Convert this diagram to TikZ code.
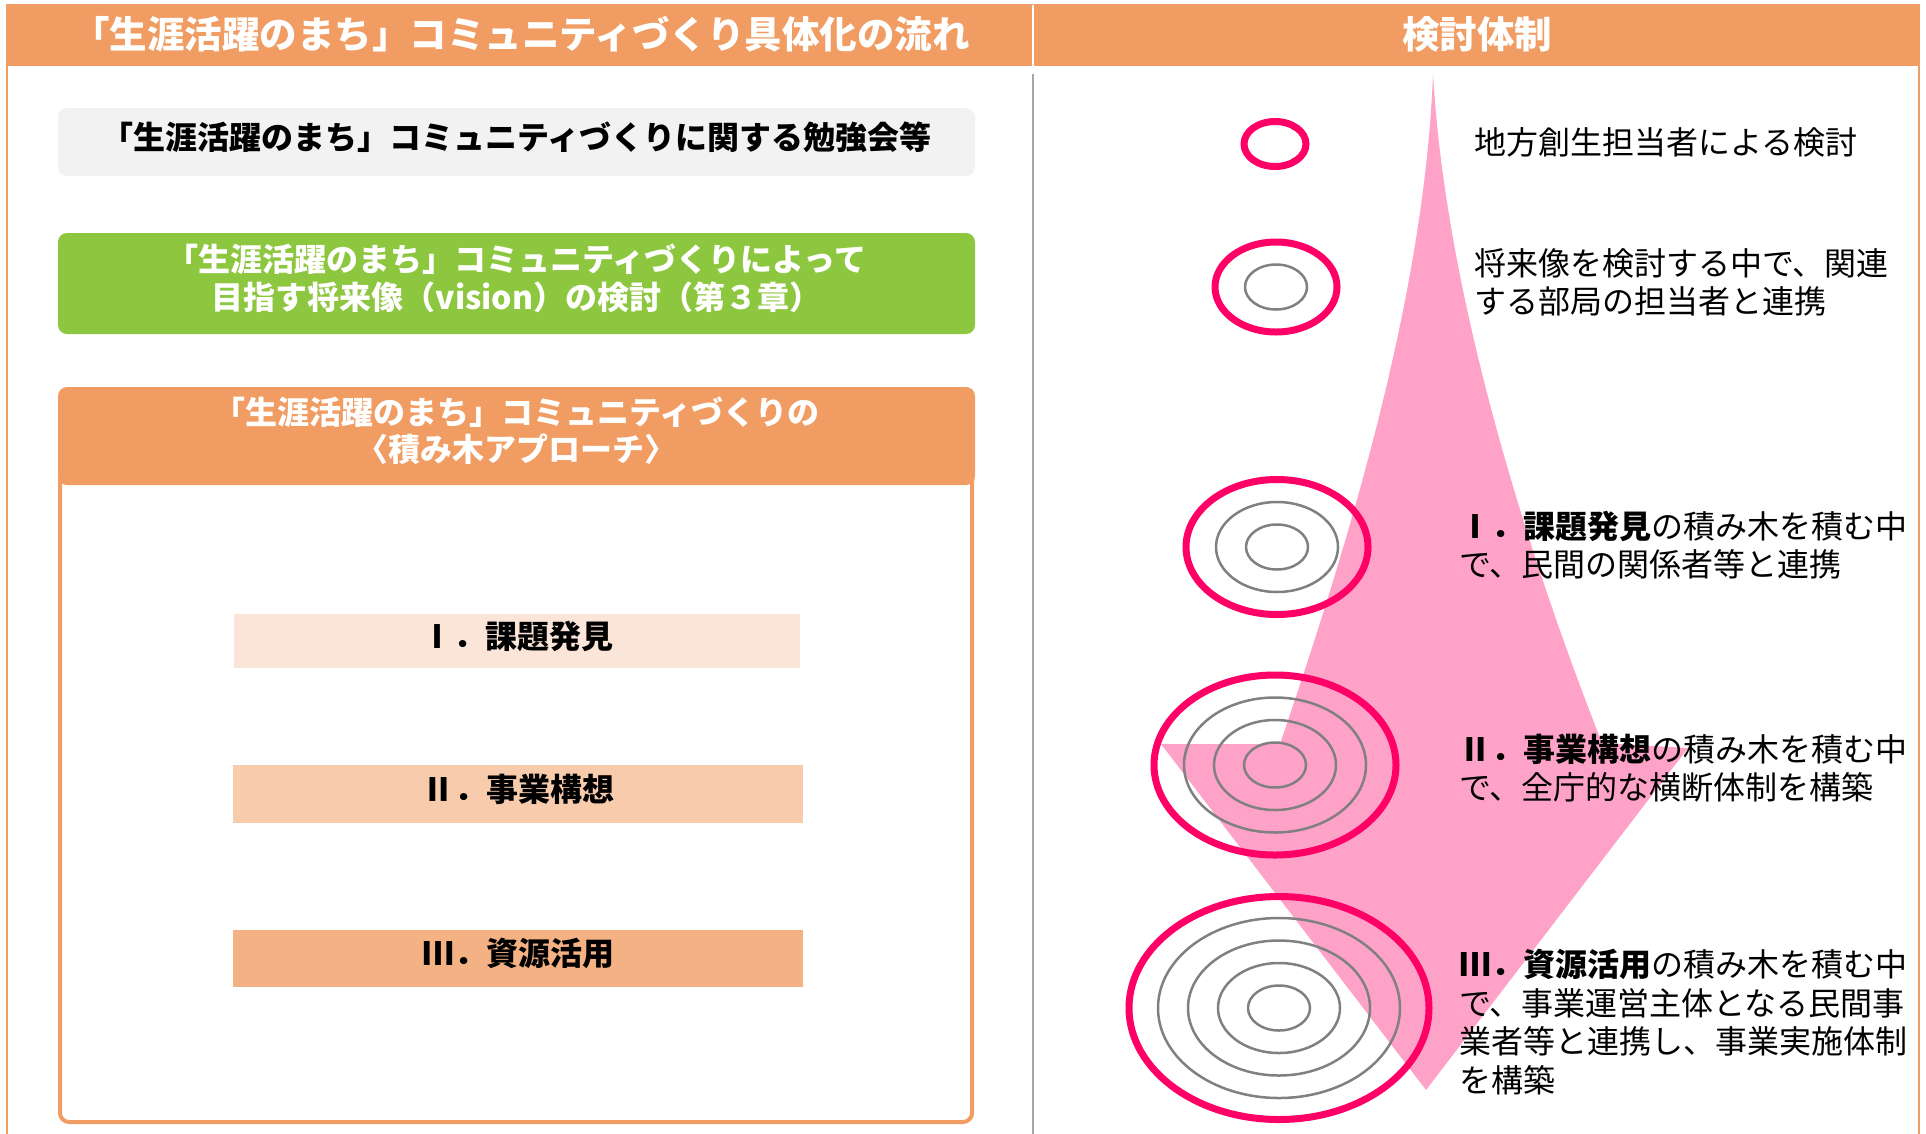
\documentclass[tikz,border=0pt]{standalone}
\usepackage{fontspec}
\setmainfont{Noto Sans CJK JP}
\definecolor{hdr}{HTML}{F19C62}
\definecolor{frameorange}{HTML}{F19C62}
\definecolor{boxgray}{HTML}{F2F2F2}
\definecolor{boxgreen}{HTML}{8DC73F}
\definecolor{stepone}{HTML}{FBE5D9}
\definecolor{steptwo}{HTML}{F8CBAD}
\definecolor{stepthree}{HTML}{F4B183}
\definecolor{arrowpink}{HTML}{FFA2C8}
\definecolor{ringpink}{HTML}{FF0066}
\definecolor{ringgray}{HTML}{808080}
\definecolor{divgray}{HTML}{A6A6A6}
\begin{document}
\begin{tikzpicture}[x=1pt,y=-1pt,
  hdrtext/.style={text=white,font=\fontsize{37.5}{40}\selectfont\bfseries,inner sep=0pt},
  lbox/.style={rounded corners=9pt,inner sep=0pt,minimum width=917pt},
  boxtext/.style={inner sep=0pt,align=center,font=\fontsize{32}{37.5}\selectfont\bfseries},
  stepbox/.style={inner sep=0pt},
  side/.style={font=\fontsize{32}{38.5}\selectfont,align=left,anchor=west,inner sep=0pt},
  pinkring/.style={draw=ringpink,line width=7pt},
  grayring/.style={draw=ringgray,line width=2.5pt}]
\useasboundingbox (0,0) rectangle (1926,1133);
\clip (0,0) rectangle (1926,1133);
% outer frame and header
\draw[frameorange,line width=2pt] (7,5) rectangle (1919,1160);
\fill[hdr] (6,5) rectangle (1920,66);
\draw[white,line width=2pt] (1033,5) -- (1033,66);
\draw[divgray,line width=2.5pt] (1033,74) -- (1033,1140);
\node[hdrtext] (lhdr) at (521,34) {「生涯活躍のまち」コミュニティづくり具体化の流れ};
\node[hdrtext] (rhdr) at (1477,34) {検討体制};
% left column
\node[lbox,fill=boxgray,minimum height=68pt] (study) at (516.5,142) {};
\node[boxtext] (studytext) at ([yshift=5pt]study.center)
  {「生涯活躍のまち」コミュニティづくりに関する勉強会等};
\node[lbox,fill=boxgreen,minimum height=101pt] (vision) at (516.5,283.5) {};
\node[boxtext,text=white] (visiontext) at ([yshift=5pt]vision.center)
  {「生涯活躍のまち」コミュニティづくりによって\\目指す将来像（vision）の検討（第３章）};
\node[draw=frameorange,line width=4pt,rounded corners=9pt,minimum width=912pt,
  minimum height=652pt,inner sep=0pt] (approachframe) at (516,796) {};
\node[lbox,fill=hdr,minimum height=98pt] (approach) at (516.5,436) {};
\node[boxtext,text=white] (approachtext) at ([yshift=5pt]approach.center)
  {「生涯活躍のまち」コミュニティづくりの\\〈積み木アプローチ〉};
\node[stepbox,fill=stepone,minimum width=566pt,minimum height=54pt] (s1) at (517,641) {};
\node[boxtext] (s1text) at ([yshift=5pt]s1.center) {Ⅰ．課題発見};
\node[stepbox,fill=steptwo,minimum width=570pt,minimum height=58pt] (s2) at (518,794) {};
\node[boxtext] (s2text) at ([yshift=5pt]s2.center) {Ⅱ．事業構想};
\node[stepbox,fill=stepthree,minimum width=570pt,minimum height=57pt] (s3) at (518,958) {};
\node[boxtext] (s3text) at ([yshift=5pt]s3.center) {Ⅲ．資源活用};
% right column: arrow
\fill[arrowpink] (1433,74) .. controls (1446,300) and (1530,560) .. (1602,743)
  -- (1688,748) -- (1426,1090) -- (1161,744) -- (1280,744)
  .. controls (1360,510) and (1425,280) .. (1433,74) -- cycle;
% rings
\draw[pinkring] (1275,144) ellipse [x radius=31pt,y radius=22.5pt];
\draw[grayring] (1276,287) ellipse [x radius=31pt,y radius=22.5pt];
\draw[pinkring] (1276,287) ellipse [x radius=61pt,y radius=45pt];
\draw[grayring] (1277,547) ellipse [x radius=31pt,y radius=22.5pt];
\draw[grayring] (1277,547) ellipse [x radius=61pt,y radius=45pt];
\draw[pinkring] (1277,547) ellipse [x radius=91pt,y radius=67.5pt];
\foreach \r/\s in {31/22.5,61/45,91/67.5}
  \draw[grayring] (1275,765) ellipse [x radius=\r pt,y radius=\s pt];
\draw[pinkring] (1275,765) ellipse [x radius=121pt,y radius=90pt];
\foreach \r/\s in {31/22.5,61/45,91/67.5,121/90}
  \draw[grayring] (1279,1008) ellipse [x radius=\r pt,y radius=\s pt];
\draw[pinkring] (1279,1008) ellipse [x radius=150pt,y radius=111.5pt];
% right texts
\node[side] (t1) at (1474,142) {地方創生担当者による検討};
\node[side] (t2) at (1474,282.5) {将来像を検討する中で、関連\\する部局の担当者と連携};
\node[side] (t3) at (1459,545) {{\bfseries Ⅰ．課題発見}の積み木を積む中\\で、民間の関係者等と連携};
\node[side] (t4) at (1459,768) {{\bfseries Ⅱ．事業構想}の積み木を積む中\\で、全庁的な横断体制を構築};
\node[side] (t5) at (1459,1022) {{\bfseries Ⅲ．資源活用}の積み木を積む中\\で、事業運営主体となる民間事\\業者等と連携し、事業実施体制\\を構築};
\end{tikzpicture}
\end{document}
